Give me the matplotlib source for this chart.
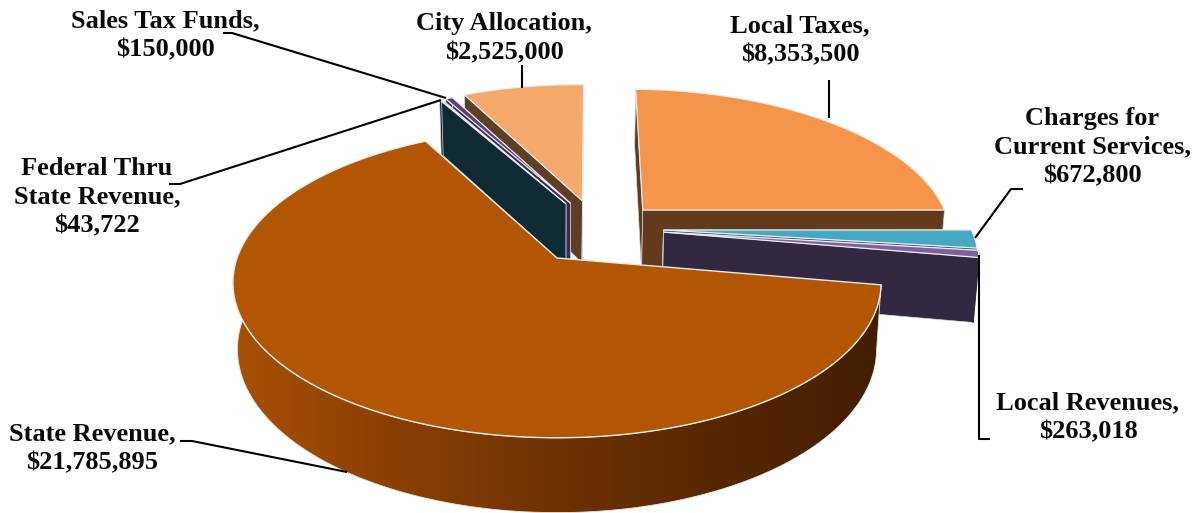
import numpy as np
import matplotlib
matplotlib.use("Agg")
import matplotlib.pyplot as plt
from matplotlib.patches import Polygon

# Revenue sources, clockwise from the top of the pie
categories = ["Local Taxes", "Charges for\nCurrent Services", "Local Revenues", "State Revenue",
              "Federal Thru\nState Revenue", "Sales Tax Funds", "City Allocation"]
values = [8353500, 672800, 263018, 21785895, 43722, 150000, 2525000]

top_colors = ["#f4954a", "#46a8c2", "#7f60a3", "#b25604", "#a9c6d2", "#5a3f78", "#f5a96d"]
wall_colors = ["#633a1d", "#2a5b68", "#332841", "#7a3804", "#0f2a33", "#3a2a50", "#5e3e24"]

# Explosion of every slice in the plane of the pie, and its radii
offset_x = [0.284, 0.345, 0.345, 0.0, 0.030, 0.045, 0.085]
offset_y = [0.335, 0.191, 0.176, 0.0, 0.380, 0.385, 0.402]
radius_x = [1.0, 0.998, 0.998, 1.006, 1.01, 1.01, 1.0]
radius_y = [1.025, 1.0, 1.0, 1.0, 0.995, 0.995, 1.005]
start_angle = 89.0

# Camera: apex position, horizontal and vertical scale, perspective, thickness
CX, CY, FX, FY, PERSP, DEPTH, SHRINK = 557.0, 258.0, 318.0, 151.0, 0.16, 65.0, 0.014

# Label block centres and leader polylines in figure pixels
label_xy = [(800, 40), (1092, 147), (1088, 417), (92, 448), (97, 197), (165, 35), (504, 38)]
leaders = [
    [(829, 80), (829, 118)],
    [(1023, 189), (1011, 189), (975, 238)],
    [(979, 255), (979, 439), (990, 439)],
    [(180, 441), (192, 441), (347, 472)],
    [(169, 184), (180, 184), (441, 100)],
    [(223, 33), (232, 33), (446, 98)],
    [(522, 65), (522, 88)],
]


def project(X, Y, Z=0.0):
    w = 1 + PERSP * Y
    s = 1 - SHRINK * Z
    return np.column_stack([CX + FX * X / w * s, CY - FY * Y / w * s + DEPTH * Z / w])


def rim(i, a0, a1, n=120):
    t = np.radians(np.linspace(a0, a1, n))
    return offset_x[i] + radius_x[i] * np.cos(t), offset_y[i] + radius_y[i] * np.sin(t)


def cut_face(ax, i, angle):
    X, Y = rim(i, angle, angle, 1)
    ax_x, ax_y = np.array([offset_x[i]]), np.array([offset_y[i]])
    pts = np.vstack([project(ax_x, ax_y), project(X, Y), project(X, Y, 1), project(ax_x, ax_y, 1)])
    ax.add_patch(Polygon(pts, closed=True, fc=wall_colors[i], ec="#dcdcdc", lw=0.5))


def arc_wall(i, a0, a1):
    X, Y = rim(i, a0, a1)
    return np.vstack([project(X, Y), project(X, Y, 1)[::-1]])


def top_face(ax, i, a0, a1):
    X, Y = rim(i, a0, a1)
    pts = np.vstack([project(np.array([offset_x[i]]), np.array([offset_y[i]])), project(X, Y)])
    ax.add_patch(Polygon(pts, closed=True, fc=top_colors[i], ec="#ececec", lw=0.9))


fig = plt.figure(figsize=(12.01, 5.13), dpi=100)
ax = fig.add_axes([0, 0, 1, 1])

# Slice angles follow the values, running clockwise
sweep = np.array(values, dtype=float) / np.sum(values) * 360.0
ends = start_angle - np.cumsum(sweep)
starts = ends + sweep

# Back slices first so the nearer ones overlap them
for i in [0, 1, 2, 6, 5, 4]:
    cut_face(ax, i, starts[i])
    cut_face(ax, i, ends[i])
    if i == 2:
        ax.add_patch(Polygon(arc_wall(i, starts[i], ends[i]), closed=True,
                             fc=wall_colors[i], ec=wall_colors[i], lw=0.8))
    top_face(ax, i, starts[i], ends[i])

# Large slice: the outer wall darkens from left to right
wall_pts = arc_wall(3, starts[3], -191)
shade = np.linspace(0, 1, 256)[None, :]
cmap = matplotlib.colors.LinearSegmentedColormap.from_list(
    "wall", ["#a85006", "#8a4005", "#6e3203", "#562702", "#421d00"])
img = ax.imshow(shade, cmap=cmap, extent=(230, 885, 520, 250), aspect="auto", zorder=2)
clip = Polygon(wall_pts, closed=True, transform=ax.transData, fc="none", ec="none")
ax.add_patch(clip)
img.set_clip_path(clip)
ax.add_patch(Polygon(wall_pts, closed=True, fc="none", ec="#e4e4e4", lw=0.6, zorder=2.1))

X3, Y3 = rim(3, starts[3], ends[3], 400)
pts3 = np.vstack([project(np.array([0.0]), np.array([0.0])), project(X3, Y3)])
ax.add_patch(Polygon(pts3, closed=True, fc=top_colors[3], ec="#ececec", lw=1.0, zorder=2.2))

for line in leaders:
    xs, ys = zip(*line)
    ax.plot(xs, ys, color="black", lw=1.5, zorder=3, solid_capstyle="butt")

for (x, y), cat, val in zip(label_xy, categories, values):
    ax.text(x, y, f"{cat},\n${val:,}", ha="center", va="center", color="#0a0a0a",
            family="Liberation Serif", weight="bold", fontsize=19, linespacing=1.33, zorder=4)

ax.set_xlim(0, 1201)
ax.set_ylim(513, 0)
ax.axis("off")
fig.savefig("out.png", dpi=100, facecolor="white")
